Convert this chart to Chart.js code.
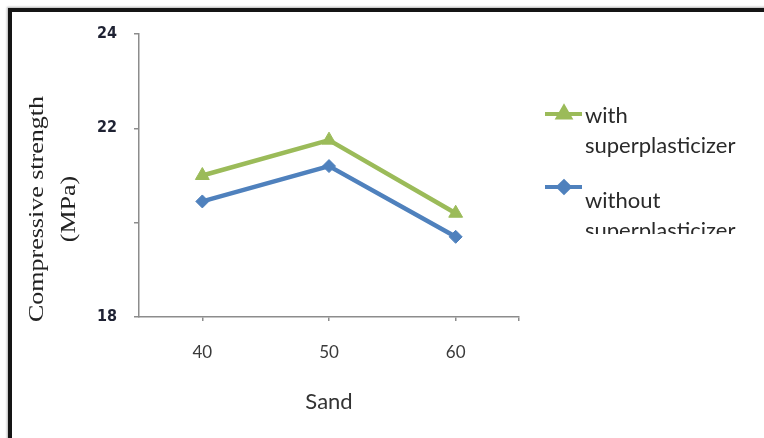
<!DOCTYPE html>
<html>
<head>
<meta charset="utf-8">
<script src="https://cdn.jsdelivr.net/npm/chart.js@4/dist/chart.umd.min.js"></script>
<style>
  html, body { margin: 0; padding: 0; background: #fff; }
  #wrap { position: relative; width: 764px; height: 438px; overflow: hidden; }
  #frame {
    position: absolute; left: 8px; top: 8px; width: 820px; height: 520px;
    border-left: 4px solid #151515; border-top: 4px solid #151515;
    box-shadow: -1px -1px 2px rgba(0,0,0,0.3);
  }
  #c { position: absolute; left: 0; top: 0; }
</style>
</head>
<body>
<div id="wrap">
  <div id="frame"></div>
  <canvas id="c" width="764" height="438"></canvas>
</div>
<script>
// Sand content (x) and compressive strength (MPa) of each mix
const sandContent = [40, 50, 60];
const withSuperplasticizer = [21.0, 21.75, 20.2];
const withoutSuperplasticizer = [20.45, 21.2, 19.7];

const seriesNames = ['with superplasticizer', 'without superplasticizer'];
const legendLines = [['with', 'superplasticizer'], ['without', 'superplasticizer']];

const xTicks = [40, 50, 60, 65];
const xTickLabels = ['40', '50', '60', ''];
const yTicks = [18, 20, 22, 24];
const yTickLabels = ['18', '', '22', '24'];

const xTitle = 'Sand';
const yTitleLines = ['Compressive strength', '(MPa)'];

const GREEN = '#9bbb59';
const BLUE = '#4f81bd';
const AXIS = '#8c8c8c';

function points(values) {
  return sandContent.map((x, i) => ({ x: x, y: values[i] }));
}

// Two-line rotated y title, stretched along its length
const yTitlePlugin = {
  id: 'yTitle',
  afterDraw(chart) {
    const ctx = chart.ctx;
    ctx.save();
    ctx.fillStyle = '#222';
    ctx.font = '20px "Liberation Serif", "Times New Roman", serif';
    ctx.textAlign = 'center';
    ctx.textBaseline = 'middle';
    yTitleLines.forEach((line, i) => {
      ctx.save();
      ctx.translate(37.5 + i * 32.5, 209);
      ctx.rotate(-Math.PI / 2);
      ctx.scale(1.3, 1);
      ctx.fillText(line, 0, 0);
      ctx.restore();
    });
    ctx.restore();
  }
};

// Legend with wrapped labels, clipped at the bottom of its box
const legendPlugin = {
  id: 'wrappedLegend',
  afterDraw(chart) {
    const ctx = chart.ctx;
    const slots = [{ sw: 114, text: 116 }, { sw: 187, text: 201 }];
    ctx.save();
    ctx.beginPath();
    ctx.rect(530, 90, 234, 144);
    ctx.clip();
    chart.data.datasets.forEach((ds, i) => {
      const s = slots[i];
      ctx.strokeStyle = ds.borderColor;
      ctx.fillStyle = ds.backgroundColor;
      ctx.lineWidth = 4;
      ctx.beginPath();
      ctx.moveTo(545, s.sw);
      ctx.lineTo(582, s.sw);
      ctx.stroke();
      Chart.helpers.drawPoint(ctx, {
        pointStyle: ds.pointStyle,
        radius: ds.pointRadius * 0.85,
        borderWidth: 1,
        rotation: 0
      }, 564, s.sw);
      ctx.fillStyle = '#2a2a2a';
      ctx.font = '22px Lato, "Open Sans", sans-serif';
      ctx.textAlign = 'left';
      ctx.textBaseline = 'middle';
      legendLines[i].forEach((t, k) => {
        ctx.fillText(t, 585, s.text + k * 30);
      });
    });
    ctx.restore();
  }
};

new Chart(document.getElementById('c'), {
  type: 'line',
  data: {
    datasets: [
      {
        label: seriesNames[0],
        data: points(withSuperplasticizer),
        borderColor: GREEN,
        backgroundColor: GREEN,
        borderWidth: 4.5,
        pointStyle: 'triangle',
        pointRadius: 8,
        pointBorderWidth: 1,
        tension: 0
      },
      {
        label: seriesNames[1],
        data: points(withoutSuperplasticizer),
        borderColor: BLUE,
        backgroundColor: BLUE,
        borderWidth: 4.5,
        pointStyle: 'rectRot',
        pointRadius: 6.5,
        pointBorderWidth: 1,
        tension: 0
      }
    ]
  },
  options: {
    responsive: false,
    animation: false,
    layout: { padding: { top: 34, right: 245, left: 0, bottom: 0 } },
    plugins: { legend: { display: false }, tooltip: { enabled: false } },
    scales: {
      x: {
        type: 'linear',
        min: 35,
        max: 65,
        afterBuildTicks: s => { s.ticks = xTicks.map(v => ({ value: v })); },
        afterFit: s => { s.height = 121; },
        ticks: {
          autoSkip: false,
          maxRotation: 0,
          padding: 21,
          color: '#3a3a3a',
          font: { family: 'Lato, "Open Sans", sans-serif', size: 17 },
          callback: (v, i) => xTickLabels[i]
        },
        grid: { drawOnChartArea: false, drawTicks: true, tickLength: 4, color: AXIS, lineWidth: 1.5 },
        border: { display: true, color: AXIS, width: 1.5 },
        title: {
          display: true,
          text: xTitle,
          color: '#333',
          font: { family: 'Lato, "Open Sans", sans-serif', size: 22 },
          padding: { top: 0, bottom: 23 }
        }
      },
      y: {
        min: 18,
        max: 24,
        afterBuildTicks: s => { s.ticks = yTicks.map(v => ({ value: v })); },
        afterFit: s => { s.width = 139; },
        ticks: {
          autoSkip: false,
          padding: 17,
          color: '#1f2233',
          font: { family: '"Liberation Sans Narrow", "DejaVu Sans Condensed", Lato, sans-serif', size: 16, weight: 'bold' },
          callback: (v, i) => yTickLabels[i]
        },
        grid: { drawOnChartArea: false, drawTicks: true, tickLength: 5, color: AXIS, lineWidth: 1.5 },
        border: { display: true, color: AXIS, width: 1.5 }
      }
    }
  },
  plugins: [yTitlePlugin, legendPlugin]
});
</script>
</body>
</html>
